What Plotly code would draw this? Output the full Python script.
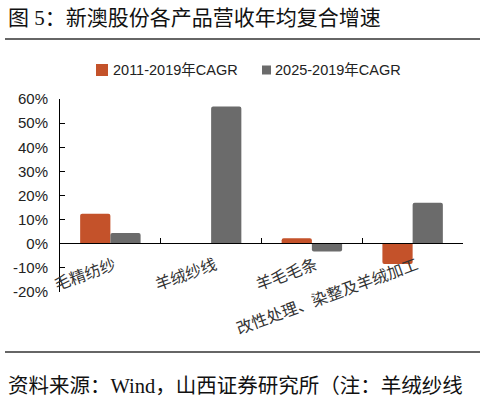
import plotly.graph_objects as go

categories = ["毛精纺纱", "羊绒纱线", "羊毛毛条", "改性处理、染整及羊绒加工"]
cagr_2011_2019 = [12.4, None, 2.3, -8.4]
cagr_2025_2019 = [4.5, 56.9, -3.2, 17.0]
series_names = ["2011-2019年CAGR", "2025-2019年CAGR"]
y_ticks = [-20, -10, 0, 10, 20, 30, 40, 50, 60]
y_tick_text = [f"{v}%" for v in y_ticks]

W, H = 485, 408
L, R, T, B = 60, 463, 99, 292
pw, ph = R - L, B - T

def px(x):
    return (x - L) / pw

def py(y):
    return (B - y) / ph

red = "#C4522A"
gray = "#6B6B6B"
cjk = "Noto Sans CJK SC"
serif_cjk = "Liberation Serif, Noto Sans CJK SC"

fig = go.Figure()
fig.add_trace(go.Bar(x=categories, y=cagr_2011_2019, name=series_names[0],
                     marker=dict(color=red, line=dict(width=0))))
fig.add_trace(go.Bar(x=categories, y=cagr_2025_2019, name=series_names[1],
                     marker=dict(color=gray, line=dict(width=0))))

fig.update_layout(
    width=W, height=H,
    margin=dict(l=L, r=W - R, t=T, b=H - B, pad=0),
    paper_bgcolor="white", plot_bgcolor="white",
    barmode="group", bargap=0.4, bargroupgap=0,
    barcornerradius=2,
    showlegend=False,
    font=dict(family="Liberation Sans, " + cjk),
)

fig.update_yaxes(range=[-20, 60], tickvals=y_ticks, ticktext=y_tick_text,
                 showgrid=False, zeroline=False, showline=True, linecolor="black",
                 linewidth=1, ticks="inside", ticklen=5, tickcolor="black",
                 ticklabelstandoff=8,
                 tickfont=dict(family="Liberation Sans", size=15, color="#222"))

fig.update_xaxes(anchor="free", position=py(243), showline=True, linecolor="black",
                 linewidth=1, ticks="inside", ticklen=5, tickcolor="black",
                 tickson="boundaries", showgrid=False, tickangle=-20,
                 ticklabelstandoff=6, ticklabelshift=4,
                 tickfont=dict(family=cjk, size=16, color="#333"))

# manual legend (square + label)
legend_items = [(series_names[0], red, 102, 12, 111), (series_names[1], gray, 266.5, 9, 273)]
for name, col, cx, sz, tx in legend_items:
    fig.add_shape(type="rect", xref="paper", yref="paper",
                  x0=px(cx - sz / 2), x1=px(cx + sz / 2), y0=py(70 + sz / 2), y1=py(70 - sz / 2),
                  fillcolor=col, line=dict(width=0))
    fig.add_annotation(text=name, xref="paper", yref="paper", x=px(tx), y=py(70),
                       xanchor="left", yanchor="middle", showarrow=False,
                       font=dict(family="Liberation Sans, " + cjk, size=14.5, color="#222"))

# title
fig.add_annotation(text="图 5：新澳股份各产品营收年均复合增速", xref="paper", yref="paper",
                   x=px(6), y=py(18), xanchor="left", yanchor="middle", showarrow=False,
                   font=dict(family=serif_cjk, size=21, color="#111"))
# source
fig.add_annotation(text="资料来源：Wind，山西证券研究所（注：羊绒纱线", xref="paper", yref="paper",
                   x=px(6), y=py(386), xanchor="left", yanchor="middle", showarrow=False,
                   font=dict(family=serif_cjk, size=20.5, color="#111"))
# separator lines
for yy in (39, 352):
    fig.add_shape(type="line", xref="paper", yref="paper", x0=px(5), x1=px(480),
                  y0=py(yy), y1=py(yy), line=dict(color="#666", width=2))

fig.write_html("out.html")
